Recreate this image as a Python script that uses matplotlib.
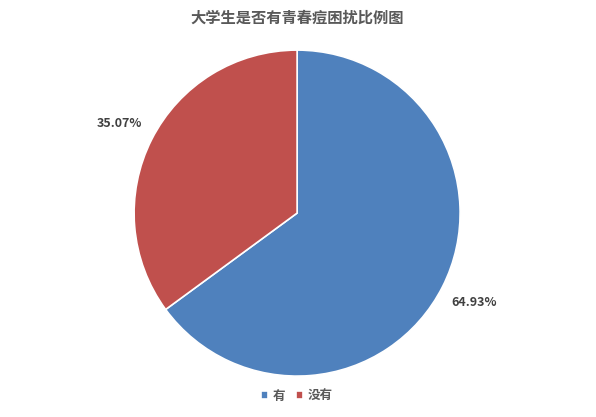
import matplotlib
matplotlib.use("Agg")
import matplotlib.pyplot as plt

plt.rcParams['font.family'] = ['Noto Sans CJK SC', 'DejaVu Sans']

# data
categories = ['有', '没有']
shares = [64.93, 35.07]
colors = ['#4F81BD', '#C0504D']
title = '大学生是否有青春痘困扰比例图'

fig = plt.figure(figsize=(5.96, 4.17), dpi=100)
ax = fig.add_axes([0.225, 0.098, 0.547, 0.782])

wedges, texts, autotexts = ax.pie(
    shares, colors=colors, startangle=90, counterclock=False,
    autopct='%.2f%%', pctdistance=1.22,
    wedgeprops=dict(edgecolor='white', linewidth=1.2),
    textprops=dict(fontsize=9, fontweight='bold', color='#404040'))
ax.set_xlim(-1, 1)
ax.set_ylim(-1, 1)
ax.set_aspect('equal')

fig.text(0.498, 0.957, title, ha='center', va='center',
         fontsize=11, fontweight='bold', color='#595959')

leg = fig.legend(wedges, categories, loc='center', bbox_to_anchor=(0.498, 0.05),
                 ncol=2, frameon=False, fontsize=9, handlelength=0.6,
                 handleheight=0.6, handletextpad=0.4, columnspacing=0.8,
                 labelcolor='#595959')
for t in leg.get_texts():
    t.set_fontweight('bold')

fig.savefig('out.png', dpi=100)
